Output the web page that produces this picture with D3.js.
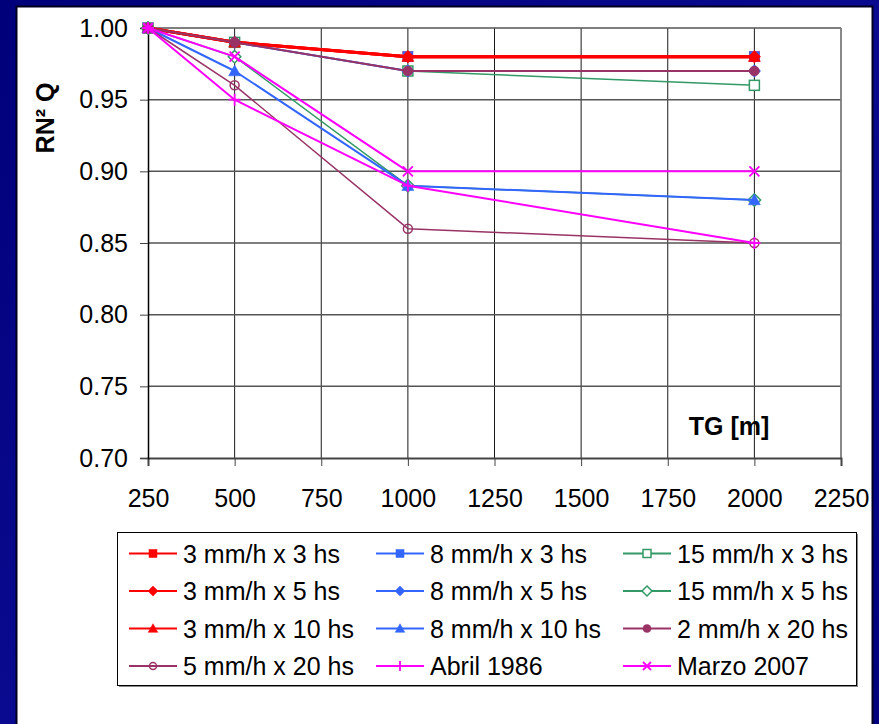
<!DOCTYPE html>
<html>
<head>
<meta charset="utf-8">
<script src="https://cdn.jsdelivr.net/npm/d3@7"></script>
<style>
  html, body { margin: 0; padding: 0; background: #000080; }
  svg { display: block; }
  text { font-family: "Liberation Sans", Arial, sans-serif; fill: #000; }
</style>
</head>
<body>
<svg id="chart" width="879" height="724"></svg>
<script>
// ---- data ----
const tgValues = [250, 500, 1000, 2000];
const xTickValues = [250, 500, 750, 1000, 1250, 1500, 1750, 2000, 2250];
const yTickValues = [0.70, 0.75, 0.80, 0.85, 0.90, 0.95, 1.00];

const seriesNames = [
  "3 mm/h x 3 hs", "8 mm/h x 3 hs", "15 mm/h x 3 hs",
  "3 mm/h x 5 hs", "8 mm/h x 5 hs", "15 mm/h x 5 hs",
  "3 mm/h x 10 hs", "8 mm/h x 10 hs", "2 mm/h x 20 hs",
  "5 mm/h x 20 hs", "Abril 1986", "Marzo 2007"
];
const r3x3   = [1.00, 0.99, 0.98, 0.98];
const r8x3   = [1.00, 0.99, 0.98, 0.98];
const r15x3  = [1.00, 0.99, 0.97, 0.96];
const r3x5   = [1.00, 0.99, 0.98, 0.98];
const r8x5   = [1.00, 0.99, 0.97, 0.97];
const r15x5  = [1.00, 0.98, 0.89, 0.88];
const r3x10  = [1.00, 0.99, 0.98, 0.98];
const r8x10  = [1.00, 0.97, 0.89, 0.88];
const r2x20  = [1.00, 0.99, 0.97, 0.97];
const r5x20  = [1.00, 0.96, 0.86, 0.85];
const abril1986 = [1.00, 0.95, 0.89, 0.85];
const marzo2007 = [1.00, 0.98, 0.90, 0.90];
const seriesValues = [r3x3, r8x3, r15x3, r3x5, r8x5, r15x5, r3x10, r8x10, r2x20, r5x20, abril1986, marzo2007];

// ---- styles ----
const RED = "#FF0000", BLUE = "#3366FF", GREEN = "#339966", PURPLE = "#993366", MAG = "#FF00FF";
const seriesStyle = [
  {color: RED,    width: 3,   marker: "square",   fill: true},
  {color: BLUE,   width: 2,   marker: "square",   fill: true},
  {color: GREEN,  width: 1.5, marker: "square",   fill: false},
  {color: RED,    width: 3,   marker: "diamond",  fill: true},
  {color: BLUE,   width: 2,   marker: "diamond",  fill: true},
  {color: GREEN,  width: 1.5, marker: "diamond",  fill: false},
  {color: RED,    width: 3,   marker: "triangle", fill: true},
  {color: BLUE,   width: 2,   marker: "triangle", fill: true},
  {color: PURPLE, width: 2,   marker: "circle",   fill: true},
  {color: PURPLE, width: 1.5, marker: "circle",   fill: false},
  {color: MAG,    width: 2,   marker: "plus",     fill: false},
  {color: MAG,    width: 2,   marker: "cross",    fill: false}
];

const svg = d3.select("#chart");

// background
const defs = svg.append("defs");
const grad = defs.append("linearGradient").attr("id", "bg").attr("x1", "0").attr("y1", "0").attr("x2", "1").attr("y2", "1");
grad.append("stop").attr("offset", "0").attr("stop-color", "#00007a");
grad.append("stop").attr("offset", "0.5").attr("stop-color", "#0a0a90");
grad.append("stop").attr("offset", "1").attr("stop-color", "#00007e");
svg.append("rect").attr("width", 879).attr("height", 724).attr("fill", "url(#bg)");

// white panel
svg.append("rect").attr("x", 16.5).attr("y", 6.5).attr("width", 856).attr("height", 730)
  .attr("fill", "#fff").attr("stroke", "#000020").attr("stroke-width", 2);

// scales
const x = d3.scaleLinear().domain([250, 2250]).range([148, 841]);
const y = d3.scaleLinear().domain([0.70, 1.00]).range([458, 28]);

// gridlines
svg.append("g").selectAll("line").data(xTickValues.slice(1)).join("line")
  .attr("x1", d => x(d)).attr("x2", d => x(d)).attr("y1", y(1.0)).attr("y2", y(0.70))
  .attr("stroke", "#1a1a1a").attr("stroke-width", 1);
svg.append("g").selectAll("line").data(yTickValues.slice(1)).join("line")
  .attr("x1", x(250)).attr("x2", x(2250)).attr("y1", d => y(d)).attr("y2", d => y(d))
  .attr("stroke", "#555").attr("stroke-width", 1.5);
// plot border (right)
svg.append("line").attr("x1", x(2250)).attr("x2", x(2250)).attr("y1", y(1.0)).attr("y2", y(0.70))
  .attr("stroke", "#888").attr("stroke-width", 1.5);

// axes
const xAxis = d3.axisBottom(x).tickValues(xTickValues).tickFormat(d3.format("d")).tickSize(8).tickPadding(23);
const gx = svg.append("g").attr("transform", `translate(0,${y(0.70)})`).call(xAxis);
gx.select(".domain").attr("stroke", "#444").attr("stroke-width", 2);
gx.selectAll(".tick line").attr("stroke", "#444").attr("stroke-width", 1);
gx.selectAll(".tick text").attr("font-size", "25px").attr("font-family", "Liberation Sans, Arial, sans-serif").attr("fill", "#000");

const yAxis = d3.axisLeft(y).tickValues(yTickValues).tickFormat(d3.format(".2f")).tickSize(8).tickPadding(12);
const gy = svg.append("g").attr("transform", `translate(${x(250)},0)`).call(yAxis);
gy.select(".domain").attr("stroke", "#000").attr("stroke-width", 1.5);
gy.selectAll(".tick line").attr("stroke", "#444").attr("stroke-width", 1);
gy.selectAll(".tick text").attr("font-size", "25px").attr("font-family", "Liberation Sans, Arial, sans-serif").attr("fill", "#000");

// axis titles
svg.append("text").attr("transform", "translate(54,118) rotate(-90)")
  .attr("text-anchor", "middle").attr("font-size", "25px").attr("font-weight", "bold").text("RN² Q");
svg.append("text").attr("x", 729).attr("y", 435)
  .attr("text-anchor", "middle").attr("font-size", "25px").attr("font-weight", "bold").text("TG [m]");

// marker drawing
function drawMarker(g, type, color, fill, s) {
  const h = s / 2;
  if (type === "square") {
    g.append("rect").attr("x", -h).attr("y", -h).attr("width", s).attr("height", s)
      .attr("fill", fill ? color : "#fff").attr("stroke", color).attr("stroke-width", fill ? 0.5 : 1.5);
  } else if (type === "diamond") {
    const d = h * 1.25;
    g.append("path").attr("d", `M0,${-d}L${d},0L0,${d}L${-d},0Z`)
      .attr("fill", fill ? color : "#fff").attr("stroke", color).attr("stroke-width", fill ? 0.5 : 1.5);
  } else if (type === "triangle") {
    const d = h * 1.2;
    g.append("path").attr("d", `M0,${-d}L${d},${d * 0.8}L${-d},${d * 0.8}Z`)
      .attr("fill", color).attr("stroke", color).attr("stroke-width", 0.5);
  } else if (type === "circle") {
    g.append("circle").attr("r", fill ? h : h - 0.5)
      .attr("fill", fill ? color : "#fff").attr("stroke", color).attr("stroke-width", fill ? 0.5 : 1.5)
      .attr("fill-opacity", fill ? 1 : 0);
  } else if (type === "plus") {
    g.append("path").attr("d", `M${-h - 1},0H${h + 1}M0,${-h - 1}V${h + 1}`)
      .attr("stroke", color).attr("stroke-width", 1.8).attr("fill", "none");
  } else if (type === "cross") {
    g.append("path").attr("d", `M${-h},${-h}L${h},${h}M${-h},${h}L${h},${-h}`)
      .attr("stroke", color).attr("stroke-width", 1.8).attr("fill", "none");
  }
}

// series
const line = d3.line().x((d, i) => x(tgValues[i])).y(d => y(d));
seriesValues.forEach((vals, si) => {
  const st = seriesStyle[si];
  const g = svg.append("g");
  g.append("path").datum(vals).attr("d", line).attr("fill", "none")
    .attr("stroke", st.color).attr("stroke-width", st.width).attr("stroke-linejoin", "round");
  vals.forEach((v, i) => {
    const mg = g.append("g").attr("transform", `translate(${x(tgValues[i])},${y(v)})`);
    drawMarker(mg, st.marker, st.color, st.fill, 10);
  });
});

// legend
const legend = svg.append("g");
legend.append("rect").attr("x", 119).attr("y", 534).attr("width", 739).attr("height", 153).attr("fill", "#888");
legend.append("rect").attr("x", 117.5).attr("y", 532.5).attr("width", 739).attr("height", 153)
  .attr("fill", "#fff").attr("stroke", "#000").attr("stroke-width", 1);
const colX = [129, 376, 623];
const rowY = [553.5, 591, 628.5, 666];
seriesNames.forEach((name, i) => {
  const st = seriesStyle[i];
  const cx = colX[i % 3], cy = rowY[Math.floor(i / 3)];
  const lg = legend.append("g");
  lg.append("line").attr("x1", cx).attr("x2", cx + 48).attr("y1", cy).attr("y2", cy)
    .attr("stroke", st.color).attr("stroke-width", 2);
  const mg = lg.append("g").attr("transform", `translate(${cx + 24},${cy})`);
  drawMarker(mg, st.marker, st.color, st.fill, 8);
  lg.append("text").attr("x", cx + 54).attr("y", cy + 9).attr("font-size", "25px").text(name);
});
</script>
</body>
</html>
